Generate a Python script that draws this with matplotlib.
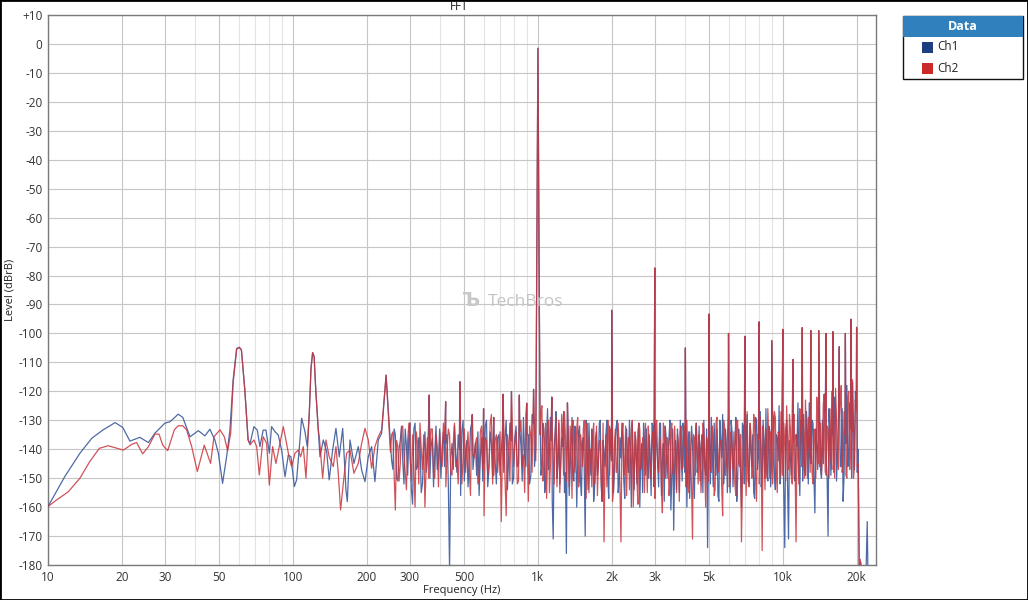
import numpy as np
import matplotlib
matplotlib.use("Agg")
import matplotlib.pyplot as plt
from matplotlib.patches import Rectangle

plt.rcParams['font.family'] = ['Open Sans', 'DejaVu Sans']
plt.rcParams['font.size'] = 8

# ---------------- data ----------------
ch1_low_hz = [10.0, 11.7, 13.5, 15.1, 16.8, 18.8, 20.2, 21.6, 23.7, 25.7, 27.3, 30.0, 31.5, 34.0, 35.5, 38.0,
              41.1, 43.7, 45.8, 48.0, 49.6, 51.6, 53.6, 55.3, 57.0, 58.9, 60.4, 61.6, 63.6, 65.6, 66.8, 69.3,
              71.5, 73.3, 75.6, 77.6, 80.1, 81.8, 84.4, 87.1, 89.9, 92.8, 95.7, 98.1, 101.3, 103.5, 106.8,
              108.5, 111.9, 114.4, 116.6, 118.5, 120.3, 122.0, 124.0, 126.9, 128.9, 133.0, 137.3, 140.6, 145.2,
              149.8, 154.5, 159.6, 164.6, 166.7, 170.9, 177.4, 184.8, 190.7, 196.8, 203.0, 209.5, 216.1, 223.0, 230.1]
ch1_low_db = [-159.8, -149.5, -141.4, -136.2, -133.3, -130.8, -132.5, -137.2, -135.9, -137.7,
              -134.5, -131.0, -130.5, -127.9, -129.0, -135.7, -133.6, -135.4, -133.1, -136.8,
              -141.4, -151.8, -142.6, -133.3, -116.0, -105.2, -104.8, -105.7, -119.5, -136.8,
              -138.0, -132.2, -133.4, -139.1, -133.4, -133.4, -141.4, -132.2, -133.9, -135.1,
              -140.3, -149.5, -142.0, -142.6, -152.9, -150.6, -136.8, -129.3, -133.9, -139.1,
              -127.6, -112.0, -106.6, -108.0, -120.0, -133.4, -142.6, -136.8, -140.8, -150.6,
              -140.3, -132.8, -142.6, -132.8, -154.1, -158.1, -136.8, -144.9, -139.1, -147.2,
              -151.2, -142.6, -139.1, -151.2, -136.8, -134.5]

ch2_low_hz = [10.0, 10.85, 12.1, 13.5, 14.8, 16.2, 17.6, 18.8, 20.3, 22.0, 23.0, 24.35, 25.7, 27.3, 28.4,
              29.4, 30.8, 32.8, 34.0, 35.5, 36.8, 38.6, 40.7, 43.45, 46.1, 47.6, 50.35, 52.45, 54.1, 55.7,
              57.0, 58.9, 60.4, 61.6, 63.6, 65.6, 66.8, 69.3, 71.1, 72.9, 75.6, 78.1, 80.1, 82.6, 85.2, 88.5,
              91.3, 93.6, 96.6, 98.8, 101.9, 105.1, 107.5, 110.2, 113.0, 116.6, 118.5, 120.3, 122.0, 124.0,
              126.9, 128.1, 132.2, 136.4, 140.6, 146.1, 149.8, 153.1, 156.5, 160.5, 165.6, 170.9, 177.4,
              184.8, 190.7, 196.8, 203.0, 209.5, 216.1, 223.0, 230.1]
ch2_low_db = [-159.8, -157.5, -154.7, -150.0, -144.3, -139.7, -138.8, -139.5, -140.3, -138.3,
              -137.7, -141.6, -139.1, -134.8, -134.8, -138.6, -140.5, -133.3, -131.9, -131.9,
              -133.3, -139.1, -147.7, -138.6, -144.9, -135.7, -133.3, -135.7, -140.5, -134.5,
              -117.0, -105.5, -104.8, -105.7, -119.5, -136.8, -138.5, -136.8, -139.1, -148.9,
              -135.7, -138.0, -152.4, -139.1, -144.9, -138.0, -132.2, -136.8, -143.1, -146.0,
              -141.4, -140.3, -142.6, -139.1, -150.0, -127.6, -112.0, -106.6, -108.0, -120.0,
              -133.4, -135.7, -150.0, -136.8, -142.6, -146.0, -139.1, -148.3, -161.0, -151.8,
              -141.4, -140.3, -148.3, -144.9, -138.0, -132.8, -136.8, -146.6, -139.1, -135.7,
              -133.4]

# noise floor 250 Hz .. 980 Hz: readings on a log grid (a) and on the half-step grid between (b)
ch1_mid_db = [-138, -147, -135, -151, -137, -144, -133, -149, -140, -159,
              -131, -146, -137, -152, -134, -143, -150, -136, -141, -147,
              -133, -139, -146, -135, -181, -138, -132, -148, -140, -134,
              -151, -137, -144, -131, -142, -149, -156, -136, -145, -130,
              -147, -138, -133, -152, -135, -141, -148, -130, -143, -137,
              -150, -132, -145, -139, -129, -146, -135, -149, -131, -140]
ch1_mid_b_db = [-144, -133, -150, -140, -132, -152, -139, -135, -154, -133,
                -147, -136, -155, -141, -148, -131, -139, -153, -132, -144,
                -150, -134, -138, -152, -143, -147, -141, -135, -156, -130,
                -141, -153, -133, -147, -138, -134, -143, -151, -132, -153,
                -134, -150, -144, -136, -149, -133, -136, -154, -131, -152,
                -136, -146, -133, -151, -143, -135, -152, -128, -146, -133]
ch2_mid_db = [-141, -134, -161, -139, -145, -132, -148, -137, -143, -135,
              -160, -138, -131, -147, -160, -136, -142, -133, -150, -139,
              -134, -146, -137, -141, -135, -149, -131, -144, -138, -152,
              -133, -140, -147, -129, -143, -136, -150, -132, -163, -137,
              -145, -128, -149, -135, -141, -165, -131, -163, -139, -127,
              -146, -134, -151, -130, -142, -128, -158, -136, -126, -144]
ch2_mid_b_db = [-135, -149, -137, -151, -133, -142, -154, -131, -151, -146,
                -134, -152, -140, -135, -146, -150, -133, -148, -135, -153,
                -144, -131, -153, -133, -148, -138, -146, -152, -133, -143,
                -148, -134, -156, -142, -138, -152, -134, -147, -136, -149,
                -131, -152, -137, -148, -134, -139, -150, -135, -151, -133,
                -138, -152, -134, -146, -155, -137, -132, -148, -133, -135]

# noise floor 1.02 kHz .. 20.3 kHz: readings on a log grid (a) and on the half-step grid (b)
ch1_high_db = [-128, -146, -133, -152, -126, -141, -137, -171, -134, -150,
               -131, -144, -139, -155, -176, -133, -147, -129, -151, -138,
               -145, -132, -156, -136, -170, -140, -131, -149, -137, -153,
               -134, -146, -130, -158, -141, -135, -150, -132, -144, -155,
               -137, -130, -152, -143, -136, -157, -133, -148, -139, -131,
               -154, -142, -134, -160, -138, -131, -149, -145, -135, -156,
               -132, -147, -139, -153, -131, -144, -158, -136, -141, -130,
               -150, -168, -137, -133, -155, -142, -131, -148, -160, -134,
               -145, -138, -157, -131, -143, -151, -135, -130, -149, -174,
               -136, -129, -153, -141, -133, -158, -137, -128, -147, -139,
               -131, -155, -134, -144, -129, -150, -138, -160, -132, -146,
               -128, -152, -140, -135, -157, -130, -143, -127, -149, -137,
               -126, -151, -133, -145, -129, -154, -136, -125, -148, -139,
               -174, -130, -171, -143, -127, -150, -135, -124, -156, -138,
               -128, -149, -134, -124, -145, -131, -162, -139, -123, -147,
               -130, -121, -144, -170, -135, -120, -148, -127, -141, -119,
               -146, -158, -128, -118, -143, -133, -117, -147, -125, -140]
ch1_high_b_db = [-149, -131, -155, -135, -147, -129, -158, -140, -127, -145,
                 -152, -136, -127, -148, -133, -156, -138, -150, -132, -160,
                 -134, -151, -138, -147, -130, -154, -143, -133, -158, -136,
                 -149, -131, -153, -137, -146, -130, -157, -141, -133, -148,
                 -132, -155, -136, -131, -151, -138, -145, -130, -160, -142,
                 -135, -152, -131, -144, -155, -137, -133, -150, -141, -131,
                 -153, -134, -145, -131, -156, -138, -132, -150, -136, -161,
                 -133, -146, -154, -139, -130, -151, -137, -133, -145, -157,
                 -132, -150, -136, -148, -132, -139, -155, -146, -133, -140,
                 -152, -141, -131, -149, -156, -130, -143, -152, -133, -155,
                 -145, -130, -153, -138, -158, -133, -149, -131, -152, -136,
                 -151, -132, -146, -155, -129, -147, -136, -153, -130, -150,
                 -148, -132, -153, -127, -149, -135, -144, -152, -128, -155,
                 -133, -153, -137, -149, -126, -151, -139, -146, -130, -151,
                 -147, -127, -152, -143, -130, -150, -133, -147, -125, -150,
                 -145, -127, -150, -126, -149, -135, -122, -151, -129, -146,
                 -126, -149, -138, -146, -124, -150, -131, -120, -148, -129]
ch2_high_db = [-135, -125, -149, -131, -142, -155, -128, -144, -137, -153,
               -130, -146, -134, -127, -151, -139, -132, -157, -136, -143,
               -129, -150, -138, -133, -147, -131, -155, -140, -135, -152,
               -132, -144, -137, -158, -172, -135, -130, -149, -141, -154,
               -133, -147, -138, -172, -131, -145, -156, -136, -142, -130,
               -150, -137, -159, -133, -146, -140, -131, -155, -138, -144,
               -134, -157, -130, -148, -139, -162, -133, -145, -137, -152,
               -131, -149, -141, -135, -158, -132, -146, -139, -130, -155,
               -143, -171, -136, -131, -152, -140, -147, -133, -160, -138,
               -130, -148, -135, -154, -129, -143, -137, -163, -132, -145,
               -128, -151, -139, -134, -156, -130, -146, -172, -136, -142,
               -127, -153, -134, -145, -131, -158, -137, -129, -175, -140,
               -133, -126, -150, -138, -144, -129, -155, -135, -127, -149,
               -139, -125, -147, -133, -152, -128, -172, -141, -126, -146,
               -134, -123, -150, -138, -129, -152, -136, -122, -145, -131,
               -140, -121, -149, -133, -126, -147, -137, -119, -144, -129,
               -118, -145, -135, -150, -120, -139, -116, -146, -127, -145]
ch2_high_b_db = [-127, -151, -136, -157, -130, -146, -133, -152, -129, -141,
                 -155, -128, -149, -136, -131, -153, -142, -130, -148, -133,
                 -153, -135, -146, -130, -157, -137, -142, -153, -131, -147,
                 -156, -137, -150, -131, -145, -153, -136, -133, -158, -139,
                 -148, -131, -155, -136, -149, -132, -140, -154, -133, -160,
                 -134, -151, -131, -147, -136, -155, -142, -132, -150, -137,
                 -150, -132, -146, -136, -153, -131, -150, -136, -156, -133,
                 -148, -132, -155, -138, -134, -147, -132, -153, -143, -134,
                 -153, -135, -149, -140, -135, -155, -131, -147, -136, -151,
                 -147, -132, -156, -131, -148, -137, -153, -130, -149, -136,
                 -153, -134, -147, -152, -130, -145, -135, -151, -131, -156,
                 -146, -131, -150, -128, -149, -135, -152, -141, -132, -154,
                 -150, -137, -134, -152, -127, -147, -134, -150, -141, -131,
                 -151, -136, -128, -150, -132, -147, -135, -152, -133, -128,
                 -150, -137, -129, -148, -148, -133, -150, -128, -146, -149,
                 -124, -148, -132, -150, -143, -124, -150, -130, -147, -124,
                 -148, -127, -149, -122, -147, -134, -150, -123, -146, -131]

# discrete tones (mains harmonics, 1 kHz test tone and its harmonics)
spike_hz = [240, 300, 360, 420, 480, 540, 600, 660, 720, 780, 840, 900, 960, 1000, 1140, 1320,
            2000, 3000, 4000, 5000, 6000, 7000, 8000, 9000, 10000, 11000, 12000, 13000, 14000,
            15000, 16000, 17000, 18000, 19000, 20000]
spike_db = [-114.4, -131.0, -121.3, -123.6, -116.7, -128.0, -126.0, -129.0, -121.0, -120.1, -121.3,
            -124.1, -119.3, -1.5, -122.0, -124.0, -92.0, -77.4, -105.0, -93.3, -100.0, -101.0, -96.0,
            -102.5, -98.6, -109.0, -98.0, -99.0, -99.0, -100.0, -99.4, -104.6, -100.0, -95.1, -97.9]

# above the pass band
ch1_tail_hz = [20500, 20800, 21100, 21800, 22100, 22300, 24000]
ch1_tail_db = [-184, -179, -188, -186, -165, -189, -190]
ch2_tail_hz = [20500, 20700, 20900, 21500, 22000, 24000]
ch2_tail_db = [-182, -178, -186, -190, -185, -190]

x_ticks = [10, 20, 30, 50, 100, 200, 300, 500, 1000, 2000, 3000, 5000, 10000, 20000]
x_tick_labels = ['10', '20', '30', '50', '100', '200', '300', '500', '1k', '2k', '3k', '5k', '10k', '20k']
y_ticks = list(range(-180, 11, 10))
y_tick_labels = ['+10' if v > 0 else str(v) for v in y_ticks]


def log_grid(lo, hi, n, half=False):
    g = np.geomspace(lo, hi, n)
    if half:
        g = g * (hi / lo) ** (0.5 / (n - 1))
    return g


def assemble(low_hz, low_db, mid_a, mid_b, high_a, high_b, tail_hz, tail_db):
    parts_f = [low_hz,
               log_grid(250, 980, len(mid_a)), log_grid(250, 980, len(mid_b), True)[:-1],
               log_grid(1020, 20300, len(high_a)), log_grid(1020, 20300, len(high_b), True)[:-1],
               spike_hz, tail_hz]
    parts_d = [low_db, mid_a, mid_b[:-1], high_a, high_b[:-1], spike_db, tail_db]
    f = np.concatenate([np.asarray(p, float) for p in parts_f])
    d = np.concatenate([np.asarray(p, float) for p in parts_d])
    o = np.argsort(f, kind='stable')
    return f[o], d[o]


f1, d1 = assemble(ch1_low_hz, ch1_low_db, ch1_mid_db, ch1_mid_b_db, ch1_high_db, ch1_high_b_db,
                  ch1_tail_hz, ch1_tail_db)
f2, d2 = assemble(ch2_low_hz, ch2_low_db, ch2_mid_db, ch2_mid_b_db, ch2_high_db, ch2_high_b_db,
                  ch2_tail_hz, ch2_tail_db)

# ---------------- figure ----------------
W, H = 1028, 600
fig = plt.figure(figsize=(W / 100, H / 100), dpi=100)
ax = fig.add_axes([48 / W, 35 / H, (876 - 48) / W, 550 / H])

ax.plot(f1, d1, color='#3b5a9d', lw=0.9, alpha=0.9, zorder=3)
ax.plot(f2, d2, color='#c8353d', lw=0.9, alpha=0.85, zorder=4)

ax.set_xscale('log')
ax.set_xlim(10, 24000)
ax.set_ylim(-180, 10)

minor = []
for dec in [10, 100, 1000, 10000]:
    for m in range(1, 10):
        v = dec * m
        if v <= 24000 and v not in x_ticks:
            minor.append(v)
ax.set_xticks(x_ticks)
ax.set_xticklabels(x_tick_labels)
ax.set_xticks(minor, minor=True)
ax.xaxis.set_minor_formatter(matplotlib.ticker.NullFormatter())
ax.set_yticks(y_ticks)
ax.set_yticklabels(y_tick_labels)

ax.grid(True, which='major', color='#c6c6c6', lw=0.8, zorder=0)
ax.grid(True, which='minor', axis='x', color='#e3e3e3', lw=0.8, zorder=0)
ax.set_axisbelow(True)
ax.tick_params(which='both', length=0, colors='#333333', labelsize=8.5)
ax.tick_params(axis='y', pad=4)
ax.tick_params(axis='x', pad=4)
for s in ax.spines.values():
    s.set_color('#7a7a7a')
    s.set_linewidth(1.0)

fig.text(10 / W, 1 - 290 / H, 'Level (dBrB)', rotation=90, ha='center', va='center',
         fontsize=8, color='#222222')
fig.text(462 / W, 1 - 590 / H, 'Frequency (Hz)', ha='center', va='center', fontsize=8, color='#222222')
fig.text(459 / W, 1 - 7 / H, 'FFT', ha='center', va='center', fontsize=8.5, color='#222222')

# watermark
fig.text(470 / W, 1 - 301 / H, 'Ъ', ha='center', va='center', fontsize=14, fontweight='bold',
         color='#c8c8c8', family=['DejaVu Sans'])
fig.text(526 / W, 1 - 302 / H, 'TechBros', ha='center', va='center', fontsize=12.5, color='#c4c4c4')

# legend box
fig.patches.append(Rectangle((903 / W, 1 - 79 / H), 120 / W, 63 / H, transform=fig.transFigure,
                             facecolor='white', edgecolor='#111111', lw=1.0))
fig.patches.append(Rectangle((903 / W, 1 - 37 / H), 120 / W, 21 / H, transform=fig.transFigure,
                             facecolor='#2f80bd', edgecolor='none'))
fig.text(963 / W, 1 - 27 / H, 'Data', ha='center', va='center', fontsize=9, fontweight='bold',
         color='white')
fig.patches.append(Rectangle((922 / W, 1 - 53 / H), 11 / W, 11 / H, transform=fig.transFigure,
                             facecolor='#1b3f80', edgecolor='none'))
fig.patches.append(Rectangle((922 / W, 1 - 74 / H), 11 / W, 11 / H, transform=fig.transFigure,
                             facecolor='#cc2a2a', edgecolor='none'))
fig.text(937 / W, 1 - 47 / H, 'Ch1', ha='left', va='center', fontsize=8.5, color='#222222')
fig.text(937 / W, 1 - 68 / H, 'Ch2', ha='left', va='center', fontsize=8.5, color='#222222')

# outer frame
fig.patches.append(Rectangle((0, 0), 1, 1, transform=fig.transFigure, facecolor='none',
                             edgecolor='black', lw=2.0))

fig.savefig('out.png', dpi=100)
